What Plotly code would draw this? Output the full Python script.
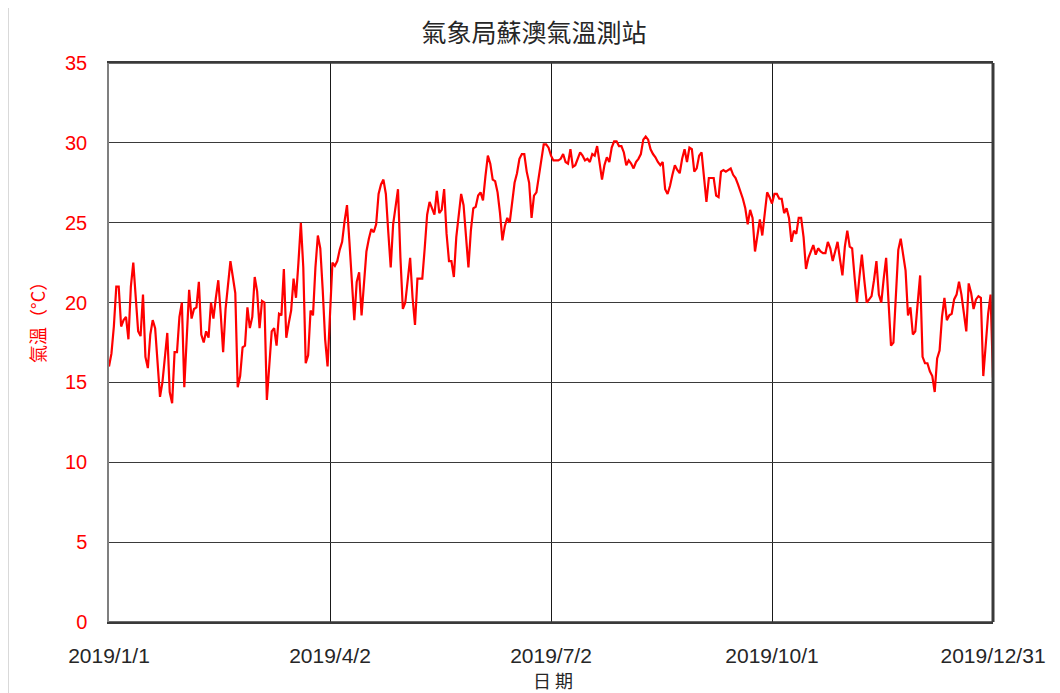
import pandas as pd
import plotly.graph_objects as go

# Daily temperature readings for 2019 (°C)
temps = [
    16.0, 16.8, 18.5, 21.0, 21.0, 18.5, 18.9, 19.1, 17.7, 21.0,
    22.5, 20.5, 18.2, 17.9, 20.5, 16.6, 15.9, 18.0, 18.9, 18.4,
    16.0, 14.1, 15.0, 16.5, 18.1, 14.4, 13.7, 16.9, 16.9, 19.1,
    20.0, 14.7, 17.5, 20.8, 19.0, 19.6, 19.7, 21.3, 18.0, 17.5,
    18.2, 17.8, 20.0, 19.0, 20.3, 21.4, 19.3, 16.9, 19.6, 21.0,
    22.6, 21.6, 20.6, 14.7, 15.4, 17.2, 17.3, 19.7, 18.4, 19.1,
    21.6, 20.7, 18.4, 20.1, 20.0, 13.9, 16.2, 18.2, 18.4, 17.3,
    19.3, 19.2, 22.1, 17.8, 18.7, 19.5, 21.5, 20.3, 22.5, 25.0,
    22.2, 16.2, 16.7, 19.5, 19.2, 22.2, 24.2, 23.4, 20.8, 17.7,
    16.0, 19.5, 22.5, 22.3, 22.6, 23.3, 23.8, 25.1, 26.1, 23.8,
    21.3, 18.9, 21.3, 21.9, 19.2, 21.1, 23.2, 24.0, 24.6, 24.4,
    24.9, 26.8, 27.4, 27.7, 26.8, 24.4, 22.2, 24.9, 26.1, 27.1,
    22.8, 19.6, 20.0, 21.3, 22.8, 20.3, 18.6, 21.5, 21.5, 21.5,
    23.4, 25.5, 26.3, 25.9, 25.5, 27.0, 25.6, 25.8, 27.1, 24.3,
    22.6, 22.6, 21.6, 24.1, 25.6, 26.8, 26.1, 23.9, 22.2, 24.5,
    25.9, 26.0, 26.7, 26.9, 26.4, 27.9, 29.2, 28.7, 27.7, 27.6,
    26.9, 25.6, 23.9, 24.8, 25.3, 25.0, 26.3, 27.5, 28.1, 29.0,
    29.3, 29.3, 28.2, 27.5, 25.3, 26.7, 26.9, 28.0, 28.9, 29.9,
    29.9, 29.7, 29.2, 28.9, 28.9, 28.9, 29.0, 29.3, 28.8, 28.7,
    29.6, 28.5, 28.6, 29.0, 29.4, 29.2, 28.9, 29.0, 28.8, 29.3,
    29.2, 29.8, 28.8, 27.7, 28.6, 29.1, 28.8, 29.7, 30.1, 30.1,
    29.8, 29.8, 29.4, 28.6, 28.9, 28.7, 28.4, 28.8, 29.0, 29.3,
    30.2, 30.4, 30.2, 29.6, 29.3, 29.1, 28.8, 28.6, 28.8, 27.1,
    26.8, 27.3, 28.0, 28.6, 28.3, 28.1, 29.0, 29.6, 28.8, 29.7,
    29.6, 28.2, 28.4, 29.2, 29.4, 27.8, 26.3, 27.8, 27.8, 27.8,
    26.7, 26.6, 28.2, 28.3, 28.2, 28.3, 28.4, 28.0, 27.8, 27.4,
    27.0, 26.5, 25.9, 24.9, 25.8, 25.3, 23.2, 24.2, 25.2, 24.2,
    25.5, 26.9, 26.6, 26.2, 26.8, 26.8, 26.5, 26.5, 25.6, 25.9,
    25.3, 23.8, 24.5, 24.3, 25.3, 25.3, 24.1, 22.1, 22.8, 23.2,
    23.6, 23.0, 23.4, 23.2, 23.1, 23.1, 23.8, 23.4, 22.6, 23.2,
    23.8, 22.7, 21.7, 23.5, 24.5, 23.5, 23.4, 21.6, 20.0, 21.6,
    23.0, 21.4, 20.0, 20.2, 20.4, 21.4, 22.6, 20.5, 20.0, 21.5,
    22.8, 20.0, 17.3, 17.5, 20.5, 23.3, 24.0, 23.0, 22.0, 19.2,
    19.7, 18.0, 18.2, 20.0, 21.7, 16.6, 16.2, 16.2, 15.7, 15.4,
    14.4, 16.5, 17.0, 19.1, 20.3, 18.9, 19.2, 19.3, 20.2, 20.5,
    21.3, 20.5, 19.4, 18.2, 21.2, 20.6, 19.6, 20.2, 20.4, 20.3,
    15.4, 17.5, 19.3, 20.5, 15.3,
]
dates = pd.date_range("2019-01-01", periods=len(temps), freq="D")

tick_dates = ["2019-01-01", "2019-04-02", "2019-07-02", "2019-10-01", "2019-12-31"]
tick_labels = ["2019/1/1", "2019/4/2", "2019/7/2", "2019/10/1", "2019/12/31"]
y_ticks = [0, 5, 10, 15, 20, 25, 30, 35]

title_text = "氣象局蘇澳氣溫測站"
x_title = "日 期"
y_title = "氣溫（°C）"

# The page body has an 8px default margin; the figure is sized so that its
# plot area lands where the reference has it in the 1060x693 window.
OFF = 8
W, H = 1060 - OFF, 693 - OFF
L, T = 109 - OFF, 63 - OFF
pw, ph = 993 - 109, 622 - 63
R = W - L - pw
B = H - T - ph


def px_x(win_px):
    return (win_px - OFF - L) / pw


def px_y(win_py):
    return (T + ph - (win_py - OFF)) / ph


fig = go.Figure()
fig.add_trace(go.Scatter(
    x=dates, y=temps, mode="lines",
    line=dict(color="#FF0000", width=2.2),
    showlegend=False, hoverinfo="x+y",
))

grid = "#3a3a3a"
fig.update_layout(
    width=W, height=H,
    margin=dict(l=L, r=R, t=T, b=B),
    paper_bgcolor="white", plot_bgcolor="white",
    font=dict(family="Liberation Sans, Arial, sans-serif", color="#262626"),
    title=dict(
        text=title_text, xref="container", x=(534 - OFF) / W, xanchor="center",
        yref="container", y=1 - (33 - OFF) / H, yanchor="middle",
        font=dict(family="Noto Sans CJK TC, sans-serif", size=25, color="#262626"),
    ),
    xaxis=dict(
        type="date",
        range=[tick_dates[0], tick_dates[-1]],
        tickvals=tick_dates, ticktext=tick_labels,
        showgrid=True, gridcolor="#1a1a1a", gridwidth=1.3,
        showline=True, linecolor=grid, linewidth=1.5, mirror=True,
        ticks="", ticklabelstandoff=14,
        tickfont=dict(family="Liberation Sans, Arial, sans-serif", size=21, color="#262626"),
        zeroline=False,
    ),
    yaxis=dict(
        range=[0, 35], tickvals=y_ticks,
        showgrid=True, gridcolor=grid, gridwidth=1.3,
        showline=True, linecolor="#7f7f7f", linewidth=1.5, mirror=False,
        ticks="", ticklabelstandoff=16,
        tickfont=dict(family="Liberation Sans, Arial, sans-serif", size=20, color="#FF0000"),
        zeroline=False,
    ),
    shapes=[
        dict(type="line", xref="paper", yref="paper",
             x0=px_x(OFF + 0.5), x1=px_x(OFF + 0.5), y0=px_y(OFF), y1=px_y(693),
             line=dict(color="#d9d9d9", width=1), layer="below"),
        dict(type="line", xref="paper", yref="paper", x0=1, x1=1, y0=0, y1=1,
             line=dict(color=grid, width=3)),
        dict(type="line", xref="paper", yref="paper", x0=0, x1=1, y0=1, y1=1,
             line=dict(color=grid, width=1.5)),
        dict(type="line", xref="paper", yref="paper", x0=0, x1=1, y0=0, y1=0,
             line=dict(color=grid, width=1.5)),
    ],
    annotations=[
        dict(text=y_title, xref="paper", yref="paper", x=px_x(37), y=px_y(318),
             showarrow=False, textangle=-90, xanchor="center", yanchor="middle",
             font=dict(family="Noto Sans CJK TC, sans-serif", size=18, color="#FF0000")),
        dict(text=x_title, xref="paper", yref="paper", x=px_x(553), y=px_y(680),
             showarrow=False, xanchor="center", yanchor="middle",
             font=dict(family="Noto Sans CJK TC, sans-serif", size=18, color="#262626")),
    ],
)

fig.write_html("out.html")
